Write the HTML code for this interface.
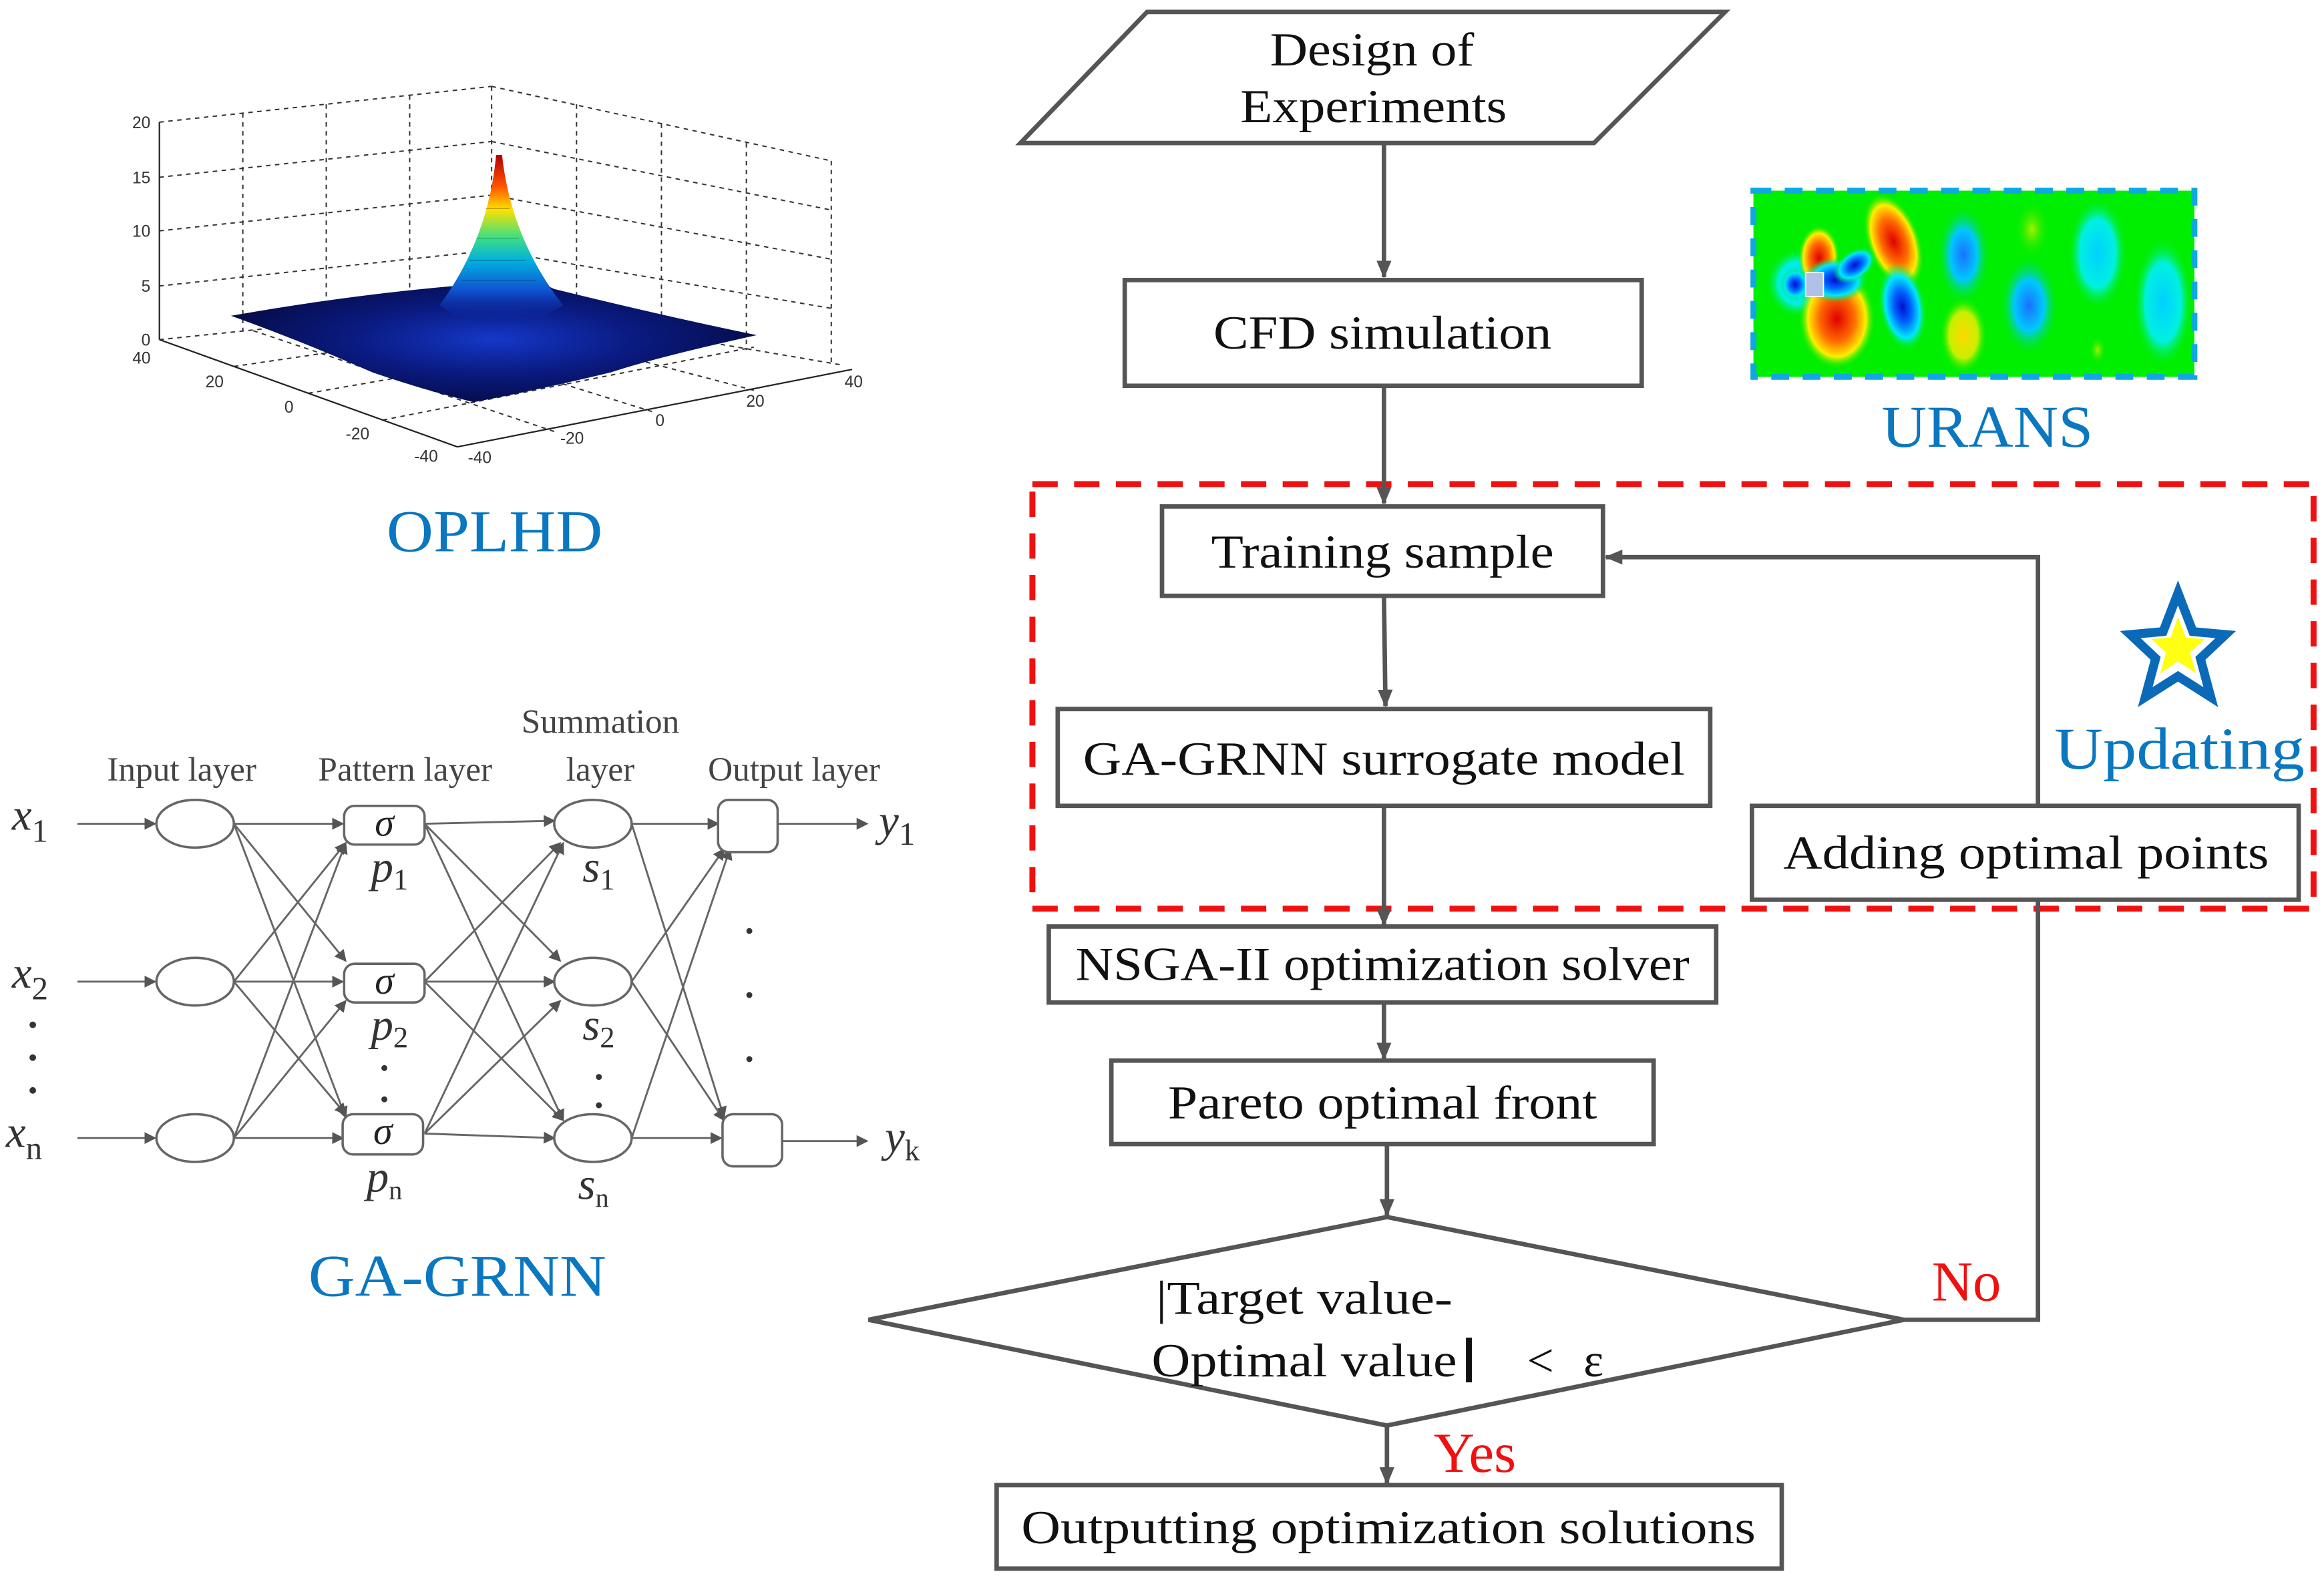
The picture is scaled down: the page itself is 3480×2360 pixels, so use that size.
<!DOCTYPE html>
<html><head><meta charset="utf-8"><style>
html,body{margin:0;padding:0;background:#fff;width:3480px;height:2360px;overflow:hidden}
svg{display:block}
text{font-family:"Liberation Serif",serif}
</style></head><body>
<svg width="3480" height="2360" viewBox="0 0 1560 1058" preserveAspectRatio="none" xmlns="http://www.w3.org/2000/svg">
<defs>
<marker id="ah" markerWidth="8" markerHeight="8" refX="7" refY="4" orient="auto" markerUnits="userSpaceOnUse" viewBox="0 0 8 8"><path d="M0,0 L8,4 L0,8z" fill="#555"/></marker>
<marker id="as" markerWidth="12" markerHeight="10" refX="11" refY="5" orient="auto" markerUnits="userSpaceOnUse"><path d="M0,0 L12,5 L0,10z" fill="#555"/></marker>
<radialGradient id="gred"><stop offset="0" stop-color="#e00000"/><stop offset="0.45" stop-color="#ff6a00"/><stop offset="0.75" stop-color="#ffee00"/><stop offset="1" stop-color="#00ee00" stop-opacity="0"/></radialGradient>
<radialGradient id="gyel"><stop offset="0" stop-color="#ffd800"/><stop offset="0.6" stop-color="#c8f000"/><stop offset="1" stop-color="#00ee00" stop-opacity="0"/></radialGradient>
<radialGradient id="gyg"><stop offset="0" stop-color="#a8f000"/><stop offset="1" stop-color="#00ee00" stop-opacity="0"/></radialGradient>
<radialGradient id="gblu"><stop offset="0" stop-color="#0010d0"/><stop offset="0.35" stop-color="#0060ff"/><stop offset="0.7" stop-color="#00e8ff"/><stop offset="1" stop-color="#00ee00" stop-opacity="0"/></radialGradient>
<radialGradient id="gmb"><stop offset="0" stop-color="#1a70ff"/><stop offset="0.5" stop-color="#00c8ff"/><stop offset="1" stop-color="#00ee00" stop-opacity="0"/></radialGradient>
<radialGradient id="gcy"><stop offset="0" stop-color="#00d0ff"/><stop offset="0.6" stop-color="#00f0e0"/><stop offset="1" stop-color="#00ee00" stop-opacity="0"/></radialGradient>
<linearGradient id="peak" x1="0" y1="0" x2="0" y2="1"><stop offset="0" stop-color="#b00000"/><stop offset="0.18" stop-color="#ff5000"/><stop offset="0.32" stop-color="#ffe000"/><stop offset="0.48" stop-color="#40e080"/><stop offset="0.62" stop-color="#00b0e0"/><stop offset="0.8" stop-color="#1050d0"/><stop offset="1" stop-color="#0a1a90" stop-opacity="0"/></linearGradient>
<radialGradient id="base" cx="0.5" cy="0.5" r="0.6"><stop offset="0" stop-color="#1438c8"/><stop offset="0.45" stop-color="#0a1a80"/><stop offset="1" stop-color="#040838"/></radialGradient>
</defs>

<!-- ========== OPLHD plot ========== -->
<g stroke="#333" stroke-width="0.9" fill="none" stroke-dasharray="3,3">
  <line x1="107" y1="82" x2="330" y2="58"/><line x1="107" y1="119" x2="330" y2="95"/>
  <line x1="107" y1="155" x2="330" y2="131"/><line x1="107" y1="192" x2="330" y2="168"/>
  <line x1="107" y1="228" x2="330" y2="205"/>
  <line x1="330" y1="58" x2="558" y2="108"/><line x1="330" y1="95" x2="558" y2="141"/>
  <line x1="330" y1="131" x2="558" y2="174"/><line x1="330" y1="168" x2="558" y2="207"/>
  <line x1="330" y1="205" x2="565" y2="245"/>
  <line x1="163" y1="76" x2="163" y2="222"/><line x1="219" y1="70" x2="219" y2="216"/><line x1="275" y1="64" x2="275" y2="211"/>
  <line x1="330" y1="58" x2="330" y2="205"/>
  <line x1="387" y1="70" x2="387" y2="215"/><line x1="444" y1="83" x2="444" y2="225"/><line x1="501" y1="96" x2="501" y2="235"/>
  <line x1="558" y1="108" x2="558" y2="245"/>
  <line x1="157" y1="246" x2="389" y2="212"/><line x1="207" y1="264" x2="448" y2="222"/><line x1="257" y1="282" x2="506" y2="233"/>
  <line x1="170" y1="222" x2="373" y2="290"/><line x1="240" y1="215" x2="440" y2="277"/><line x1="300" y1="208" x2="506" y2="262"/>
</g>
<g stroke="#222" stroke-width="1" fill="none">
  <line x1="107" y1="82" x2="107" y2="228"/>
  <line x1="107" y1="228" x2="307" y2="300"/>
  <line x1="307" y1="300" x2="572" y2="248"/>
</g>
<g font-size="11" fill="#333" font-family="Liberation Sans,sans-serif" text-anchor="end">
  <text x="101" y="86" style="font-family:'Liberation Sans',sans-serif">20</text><text x="101" y="123" style="font-family:'Liberation Sans',sans-serif">15</text><text x="101" y="159" style="font-family:'Liberation Sans',sans-serif">10</text><text x="101" y="196" style="font-family:'Liberation Sans',sans-serif">5</text><text x="101" y="232" style="font-family:'Liberation Sans',sans-serif">0</text>
</g>
<g font-size="11" fill="#333" text-anchor="middle">
  <text x="95" y="244" style="font-family:'Liberation Sans',sans-serif">40</text>
  <text x="144" y="260" style="font-family:'Liberation Sans',sans-serif">20</text>
  <text x="194" y="277" style="font-family:'Liberation Sans',sans-serif">0</text>
  <text x="240" y="295" style="font-family:'Liberation Sans',sans-serif">-20</text>
  <text x="286" y="310" style="font-family:'Liberation Sans',sans-serif">-40</text>
  <text x="322" y="311" style="font-family:'Liberation Sans',sans-serif">-40</text>
  <text x="384" y="298" style="font-family:'Liberation Sans',sans-serif">-20</text>
  <text x="443" y="286" style="font-family:'Liberation Sans',sans-serif">0</text>
  <text x="507" y="273" style="font-family:'Liberation Sans',sans-serif">20</text>
  <text x="573" y="260" style="font-family:'Liberation Sans',sans-serif">40</text>
</g>
<!-- surface -->
<path d="M155,212 Q235,198 305,192 Q340,178 372,194 Q445,212 508,225 Q440,240 410,250 Q360,262 318,270 Q285,262 250,250 Q200,228 155,212z" fill="url(#base)"/>
<path d="M333,104 Q328,160 295,205 Q333,232 378,205 Q343,160 337,104z" fill="url(#peak)"/>
<g stroke="#000" stroke-width="0.3" opacity="0.5">
<line x1="320" y1="160" x2="348" y2="160"/><line x1="315" y1="175" x2="353" y2="175"/><line x1="326" y1="140" x2="342" y2="140"/><line x1="310" y1="188" x2="360" y2="188"/>
</g>
<text x="332" y="370" font-size="40" fill="#0a77c0" text-anchor="middle" textLength="145" lengthAdjust="spacingAndGlyphs">OPLHD</text>

<!-- ========== GA-GRNN network ========== -->
<g font-size="23" fill="#444" text-anchor="middle">
  <text x="122" y="524">Input layer</text>
  <text x="272" y="524">Pattern layer</text>
  <text x="403" y="492">Summation</text>
  <text x="403" y="524">layer</text>
  <text x="533" y="524">Output layer</text>
</g>
<g stroke="#666" stroke-width="1.3" fill="none" marker-end="url(#ah)">
  <line x1="52" y1="553" x2="104" y2="553"/><line x1="52" y1="659" x2="104" y2="659"/><line x1="52" y1="764" x2="104" y2="764"/>
  <line x1="157" y1="553" x2="230" y2="553"/><line x1="157" y1="553" x2="232" y2="645"/><line x1="157" y1="553" x2="232" y2="750"/>
  <line x1="157" y1="659" x2="232" y2="566"/><line x1="157" y1="659" x2="230" y2="659"/><line x1="157" y1="659" x2="232" y2="748"/>
  <line x1="157" y1="764" x2="232" y2="566"/><line x1="157" y1="764" x2="232" y2="672"/><line x1="157" y1="764" x2="230" y2="764"/>
  <line x1="285" y1="553" x2="372" y2="551"/><line x1="285" y1="553" x2="376" y2="645"/><line x1="285" y1="553" x2="378" y2="752"/>
  <line x1="285" y1="659" x2="376" y2="566"/><line x1="285" y1="659" x2="372" y2="659"/><line x1="285" y1="659" x2="378" y2="752"/>
  <line x1="285" y1="761" x2="378" y2="566"/><line x1="285" y1="761" x2="376" y2="672"/><line x1="285" y1="761" x2="372" y2="764"/>
  <line x1="424" y1="553" x2="482" y2="553"/><line x1="424" y1="553" x2="486" y2="750"/>
  <line x1="424" y1="659" x2="486" y2="570"/><line x1="424" y1="659" x2="486" y2="752"/>
  <line x1="424" y1="764" x2="490" y2="570"/><line x1="424" y1="764" x2="484" y2="764"/>
  <line x1="522" y1="553" x2="582" y2="553"/><line x1="525" y1="766" x2="582" y2="766"/>
</g>
<g stroke="#666" stroke-width="1.6" fill="#fff">
  <ellipse cx="131" cy="553" rx="26" ry="16"/><ellipse cx="131" cy="659" rx="26" ry="16"/><ellipse cx="131" cy="764" rx="26" ry="16"/>
  <rect x="231" y="541" width="54" height="26" rx="7"/><rect x="231" y="647" width="54" height="26" rx="7"/><rect x="230" y="748" width="54" height="27" rx="7"/>
  <ellipse cx="398" cy="553" rx="26" ry="16"/><ellipse cx="398" cy="659" rx="26" ry="16"/><ellipse cx="398" cy="764" rx="26" ry="16"/>
  <rect x="482" y="537" width="40" height="35" rx="7"/><rect x="485" y="748" width="40" height="35" rx="7"/>
</g>
<g font-size="26" fill="#222" font-style="italic" text-anchor="middle">
  <text x="258" y="561">σ</text><text x="258" y="667">σ</text><text x="257" y="768">σ</text>
</g>
<g fill="#333" font-style="italic" font-size="30">
  <text x="8" y="557">x<tspan font-style="normal" font-size="22" dy="8">1</tspan></text>
  <text x="8" y="663">x<tspan font-style="normal" font-size="22" dy="8">2</tspan></text>
  <text x="4" y="770">x<tspan font-style="normal" font-size="22" dy="8">n</tspan></text>
  <text x="590" y="561">y<tspan font-style="normal" font-size="22" dy="6">1</tspan></text>
  <text x="594" y="773">y<tspan font-style="normal" font-size="20" dy="6">k</tspan></text>
  <text x="249" y="592">p<tspan font-style="normal" font-size="20" dy="5">1</tspan></text>
  <text x="249" y="698">p<tspan font-style="normal" font-size="20" dy="5">2</tspan></text>
  <text x="246" y="800">p<tspan font-style="normal" font-size="18" dy="5">n</tspan></text>
  <text x="391" y="592">s<tspan font-style="normal" font-size="20" dy="5">1</tspan></text>
  <text x="391" y="698">s<tspan font-style="normal" font-size="20" dy="5">2</tspan></text>
  <text x="388" y="805">s<tspan font-style="normal" font-size="18" dy="5">n</tspan></text>
</g>
<g fill="#333">
  <circle cx="22" cy="688" r="2.2"/><circle cx="22" cy="710" r="2.2"/><circle cx="22" cy="732" r="2.2"/>
  <circle cx="258" cy="717" r="2"/><circle cx="258" cy="738" r="2"/>
  <circle cx="402" cy="723" r="2"/><circle cx="402" cy="742" r="2"/>
  <circle cx="503" cy="625" r="2"/><circle cx="503" cy="668" r="2"/><circle cx="503" cy="711" r="2"/>
</g>
<text x="307" y="870" font-size="40" fill="#0a77c0" text-anchor="middle" textLength="200" lengthAdjust="spacingAndGlyphs">GA-GRNN</text>

<!-- ========== URANS image ========== -->
<rect x="1177" y="128" width="296" height="125" fill="#00ee00"/>
<g>
  <ellipse cx="1207" cy="190" rx="22" ry="24" fill="url(#gcy)"/>
  <ellipse cx="1233" cy="214" rx="26" ry="34" fill="url(#gred)"/>
  <ellipse cx="1221" cy="173" rx="14" ry="22" fill="url(#gred)"/>
  <ellipse cx="1271" cy="162" rx="18" ry="34" fill="url(#gred)" transform="rotate(-20 1271 162)"/>
  <ellipse cx="1232" cy="188" rx="22" ry="15" fill="url(#gblu)"/>
  <ellipse cx="1245" cy="178" rx="16" ry="10" fill="url(#gblu)" transform="rotate(-35 1245 178)"/>
  <ellipse cx="1205" cy="191" rx="10" ry="11" fill="url(#gblu)"/>
  <ellipse cx="1277" cy="206" rx="16" ry="30" fill="url(#gblu)" transform="rotate(-10 1277 206)"/>
  <ellipse cx="1318" cy="171" rx="18" ry="34" fill="url(#gmb)"/>
  <ellipse cx="1318" cy="225" rx="16" ry="26" fill="url(#gyel)"/>
  <ellipse cx="1364" cy="154" rx="12" ry="20" fill="url(#gyg)"/>
  <ellipse cx="1362" cy="205" rx="20" ry="34" fill="url(#gmb)"/>
  <ellipse cx="1408" cy="170" rx="20" ry="38" fill="url(#gcy)"/>
  <ellipse cx="1452" cy="203" rx="20" ry="44" fill="url(#gcy)"/>
  <ellipse cx="1408" cy="235" rx="6" ry="10" fill="url(#gyg)"/>
  <rect x="1212" y="183" width="12" height="16" fill="#b0c0e8" stroke="#fff" stroke-width="0.8"/>
</g>
<rect x="1177" y="128" width="296" height="125" fill="none" stroke="#10a8e0" stroke-width="4" stroke-dasharray="12,9"/>
<text x="1334" y="300" font-size="40" fill="#0a77c0" text-anchor="middle" textLength="142" lengthAdjust="spacingAndGlyphs">URANS</text>

<!-- ========== Flowchart ========== -->
<rect x="693" y="325" width="860" height="285" fill="none" stroke="#f01010" stroke-width="4" stroke-dasharray="17,11"/>

<g stroke="#555" stroke-width="3" fill="none">
  <line x1="929" y1="97" x2="929" y2="186" marker-end="url(#as)"/>
  <line x1="929" y1="260" x2="929" y2="338" marker-end="url(#as)"/>
  <line x1="929" y1="401" x2="930" y2="474" marker-end="url(#as)"/>
  <line x1="929" y1="542" x2="929" y2="621" marker-end="url(#as)"/>
  <line x1="929" y1="674" x2="929" y2="711" marker-end="url(#as)"/>
  <line x1="931" y1="769" x2="931" y2="816" marker-end="url(#as)"/>
  <line x1="931" y1="957" x2="931" y2="996" marker-end="url(#as)"/>
  <polyline points="1278,886 1368,886 1368,605"/>
  <polyline points="1368,541 1368,374 1078,374" marker-end="url(#as)"/>
</g>

<g stroke="#555" stroke-width="3" fill="#fff">
  <polygon points="770,8 1158,8 1070,96 685,96"/>
  <rect x="755" y="188" width="347" height="71"/>
  <rect x="780" y="340" width="296" height="60"/>
  <rect x="710" y="476" width="438" height="65"/>
  <rect x="1176" y="541" width="367" height="63"/>
  <rect x="704" y="622" width="448" height="51"/>
  <rect x="746" y="712" width="364" height="56"/>
  <polygon points="583,886 931,817 1278,886 931,957"/>
  <rect x="669" y="997" width="527" height="56"/>
</g>

<g font-size="32" fill="#111" text-anchor="middle">
  <text x="921" y="44" textLength="137" lengthAdjust="spacingAndGlyphs">Design of</text>
  <text x="922" y="82" textLength="179" lengthAdjust="spacingAndGlyphs">Experiments</text>
  <text x="928" y="234" textLength="227" lengthAdjust="spacingAndGlyphs">CFD simulation</text>
  <text x="928" y="381" textLength="230" lengthAdjust="spacingAndGlyphs">Training sample</text>
  <text x="929" y="520" textLength="404" lengthAdjust="spacingAndGlyphs">GA-GRNN surrogate model</text>
  <text x="1360" y="583" textLength="326" lengthAdjust="spacingAndGlyphs">Adding optimal points</text>
  <text x="928" y="658" textLength="412" lengthAdjust="spacingAndGlyphs">NSGA-II optimization solver</text>
  <text x="928" y="751" textLength="288" lengthAdjust="spacingAndGlyphs">Pareto optimal front</text>
  <text x="932" y="1036" textLength="493" lengthAdjust="spacingAndGlyphs">Outputting optimization solutions</text>
</g>
<g font-size="32" fill="#111">
  <text x="776" y="882" textLength="199" lengthAdjust="spacingAndGlyphs">|Target value-</text>
  <text x="773" y="924" textLength="205" lengthAdjust="spacingAndGlyphs">Optimal value</text>
  <rect x="984" y="898" width="4" height="30" fill="#111"/>
  <text x="1025" y="924">&lt;</text>
  <text x="1063" y="924">ε</text>
</g>
<text x="1320" y="873" font-size="38" fill="#f01010" text-anchor="middle">No</text>
<text x="990" y="988" font-size="38" fill="#f01010" text-anchor="middle">Yes</text>

<polygon points="1462,398 1472,424 1494,426 1477,442 1484,468 1462,454 1440,468 1447,442 1430,426 1452,424" fill="#fff" stroke="#0a6ab8" stroke-width="6" stroke-linejoin="miter"/>
<polygon points="1462,414 1467,428 1480,429 1470,438 1474,452 1462,444 1450,452 1454,438 1444,429 1457,428" fill="#ffff10"/>
<text x="1463" y="516" font-size="40" fill="#0a77c0" text-anchor="middle" textLength="168" lengthAdjust="spacingAndGlyphs">Updating</text>
</svg>
</body></html>
